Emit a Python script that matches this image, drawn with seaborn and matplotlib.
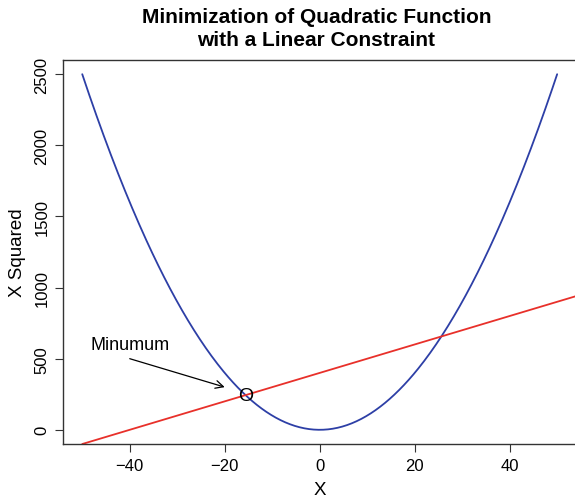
import numpy as np
import pandas as pd
import matplotlib
matplotlib.use("Agg")
import matplotlib.pyplot as plt
import seaborn as sns

# Quadratic objective f(x) = x^2 over the plotted domain
x_domain = [-50, 50]
# Linear constraint g(x) = intercept + slope * x
constraint_intercept = 400
constraint_slope = 10
constraint_x = [-50, 60]
# Annotation
label_text = "Minumum"
label_pos = [-40, 600]
arrow_tail = [-40, 500]
arrow_head = [-20, 300]
x_ticks = [-40, -20, 0, 20, 40]
y_ticks = [0, 500, 1000, 1500, 2000, 2500]

sns.set_style("white")
plt.rcParams["font.family"] = ["Liberation Sans", "DejaVu Sans"]
plt.rcParams["text.color"] = "black"
plt.rcParams["axes.labelcolor"] = "black"
plt.rcParams["xtick.color"] = "black"
plt.rcParams["ytick.color"] = "black"

xs = np.linspace(x_domain[0], x_domain[1], 401)
quad = pd.DataFrame({"x": xs, "y": xs ** 2})
cx = np.array(constraint_x, dtype=float)
lin = pd.DataFrame({"x": cx, "y": constraint_intercept + constraint_slope * cx})

# constrained minimum: where the parabola meets the line (smaller root)
a, b, c = 1.0, -constraint_slope, -constraint_intercept
x_star = (-b - np.sqrt(b * b - 4 * a * c)) / (2 * a)
y_star = x_star ** 2

fig = plt.figure(figsize=(5.75, 5.02), dpi=100)
ax = fig.add_axes([0.110, 0.1135, 0.892, 0.765])

sns.lineplot(data=quad, x="x", y="y", ax=ax, color="#2d3fa6", lw=1.3, sort=False)
sns.lineplot(data=lin, x="x", y="y", ax=ax, color="#e8302a", lw=1.3, sort=False)

ax.text(x_star, y_star, "O", ha="center", va="center", fontsize=14, color="black")
ax.annotate("", xy=arrow_head, xytext=arrow_tail,
            arrowprops=dict(arrowstyle="->", color="black", lw=0.9,
                            mutation_scale=14, shrinkA=0, shrinkB=0))
ax.text(label_pos[0], label_pos[1], label_text, ha="center", va="center", fontsize=13)

ax.set_xlim(-54, 54)
ax.set_ylim(-100, 2600)
ax.set_xticks(x_ticks)
ax.set_yticks(y_ticks)
ax.set_xticklabels([str(t).replace("-", "\u2212") for t in x_ticks])
ax.set_yticklabels([str(t) for t in y_ticks], rotation=90, va="center")
ax.tick_params(axis="both", direction="out", length=6, width=0.8, color="#333333",
               labelsize=12, pad=4, left=True, bottom=True)
ax.set_xlabel("X", fontsize=13.5, labelpad=6)
ax.set_ylabel("X Squared", fontsize=13.5, labelpad=6)
for s in ax.spines.values():
    s.set_color("#333333")
    s.set_linewidth(1.0)
    s.set_visible(True)

fig.text(0.550, 0.985, "Minimization of Quadratic Function\nwith a Linear Constraint",
         ha="center", va="top", fontsize=15, fontweight="bold", linespacing=1.3)

fig.savefig("out.png", dpi=100)
